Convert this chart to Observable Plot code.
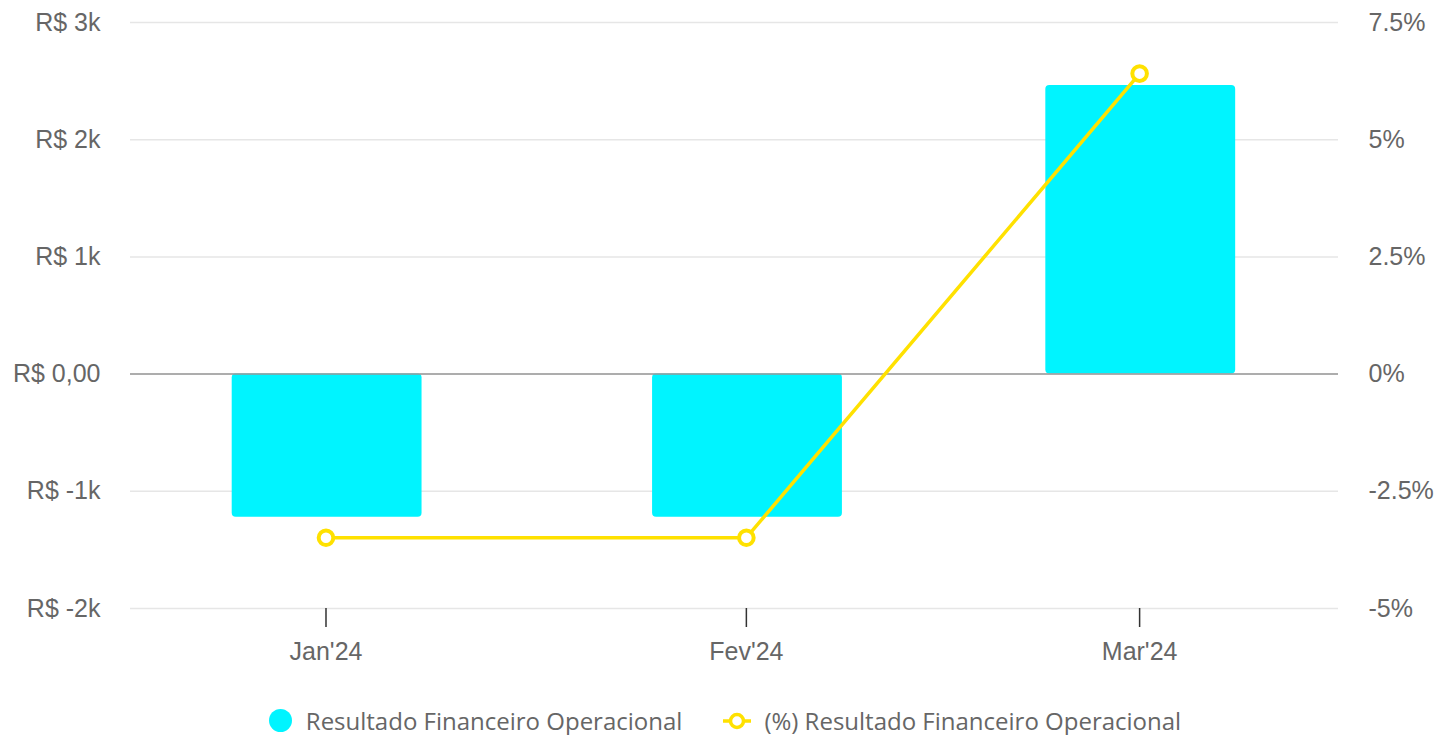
<!DOCTYPE html>
<html>
<head>
<meta charset="utf-8">
<script src="https://cdn.jsdelivr.net/npm/d3@7"></script>
<script src="https://cdn.jsdelivr.net/npm/@observablehq/plot@0.6"></script>
<style>
  html, body { margin: 0; padding: 0; background: #fff; overflow: hidden; }
  #chart { width: 1436px; }
  .legend { box-sizing: border-box; display: flex; justify-content: center; align-items: center; height: 35px; padding-top: 6px; padding-left: 14px;
    font-family: "Open Sans", "Noto Sans", sans-serif; font-size: 24px; line-height: 26px; color: #666; }
  .legend .item { display: flex; align-items: center; margin: 0 20px; }
  .swatch-dot { width: 23px; height: 23px; border-radius: 50%; background: #00f4ff; margin-right: 14px; }
  .swatch-line { margin-right: 12px; }
</style>
</head>
<body>
<div id="chart"></div>
<script>
const months = ["2024-01-01", "2024-02-01", "2024-03-01"];
const monthLabels = ["Jan'24", "Fev'24", "Mar'24"];
const resultado = [-1221, -1221, 2462];
const resultadoPct = [-3.49, -3.49, 6.41];
const yTicks = [-2000, -1000, 0, 1000, 2000, 3000];
const yTickLabels = ["R$ -2k", "R$ -1k", "R$ 0,00", "R$ 1k", "R$ 2k", "R$ 3k"];
const pctTickLabels = ["-5%", "-2.5%", "0%", "2.5%", "5%", "7.5%"];
const pctScale = 400; // 1% on the right axis ↔ R$ 400 on the left axis

const cyan = "#00f4ff";
const gold = "#ffe100";

const dates = months.map(m => new Date(m + "T00:00:00Z"));
const data = dates.map((date, i) => ({date, label: monthLabels[i], value: resultado[i], pct: resultadoPct[i]}));

const xDomain = [d3.utcHour.offset(dates[0], -14.4 * 24), d3.utcHour.offset(dates[dates.length - 1], 14.7 * 24)];

const chart = Plot.plot({
  width: 1436,
  height: 700,
  marginLeft: 130,
  marginRight: 98,
  marginTop: 22,
  marginBottom: 92,
  style: {fontFamily: "'Liberation Sans', Arial, sans-serif", fontSize: "25px", color: "#666", background: "#fff"},
  x: {type: "utc", domain: xDomain, label: null},
  y: {domain: [-2000, 3000], label: null},
  marks: [
    Plot.gridY(yTicks, {stroke: "#e6e6e6", strokeOpacity: 1, strokeWidth: 1.5}),
    Plot.rect(data, {
      x1: d => d3.utcHour.offset(d.date, -6.9 * 24),
      x2: d => d3.utcHour.offset(d.date, 7.1 * 24),
      y1: 0,
      y2: "value",
      fill: cyan,
      rx: 4
    }),
    Plot.ruleY([0], {stroke: "#999", strokeWidth: 1.5}),
    Plot.line(data, {x: "date", y: d => d.pct * pctScale, stroke: gold, strokeWidth: 3.5}),
    Plot.dot(data, {x: "date", y: d => d.pct * pctScale, r: 7.3, stroke: gold, strokeWidth: 4, fill: "white"}),
    Plot.axisY(yTicks, {anchor: "left", label: null, tickSize: 0, tickPadding: 30, fontSize: 25, fill: "#666",
      tickFormat: d => yTickLabels[yTicks.indexOf(d)]}),
    Plot.axisY(yTicks, {anchor: "right", label: null, tickSize: 0, tickPadding: 30, fontSize: 25, fill: "#666",
      tickFormat: d => pctTickLabels[yTicks.indexOf(d)]}),
    Plot.axisX(dates, {anchor: "bottom", label: null, tickSize: 19, tickPadding: 15, fontSize: 25, fill: "#666",
      stroke: "#333", strokeWidth: 1.5,
      tickFormat: d => monthLabels[dates.findIndex(t => +t === +d)]})
  ]
});
document.getElementById("chart").appendChild(chart);

const legend = document.createElement("div");
legend.className = "legend";
legend.innerHTML = `
  <div class="item"><span class="swatch-dot"></span><span>Resultado Financeiro Operacional</span></div>
  <div class="item"><svg class="swatch-line" width="30" height="20"><line x1="1" y1="10" x2="29" y2="10" stroke="${gold}" stroke-width="3.5"/><circle cx="15" cy="10" r="6.5" fill="white" stroke="${gold}" stroke-width="3.5"/></svg><span>(%) Resultado Financeiro Operacional</span></div>`;
document.body.appendChild(legend);
</script>
</body>
</html>
